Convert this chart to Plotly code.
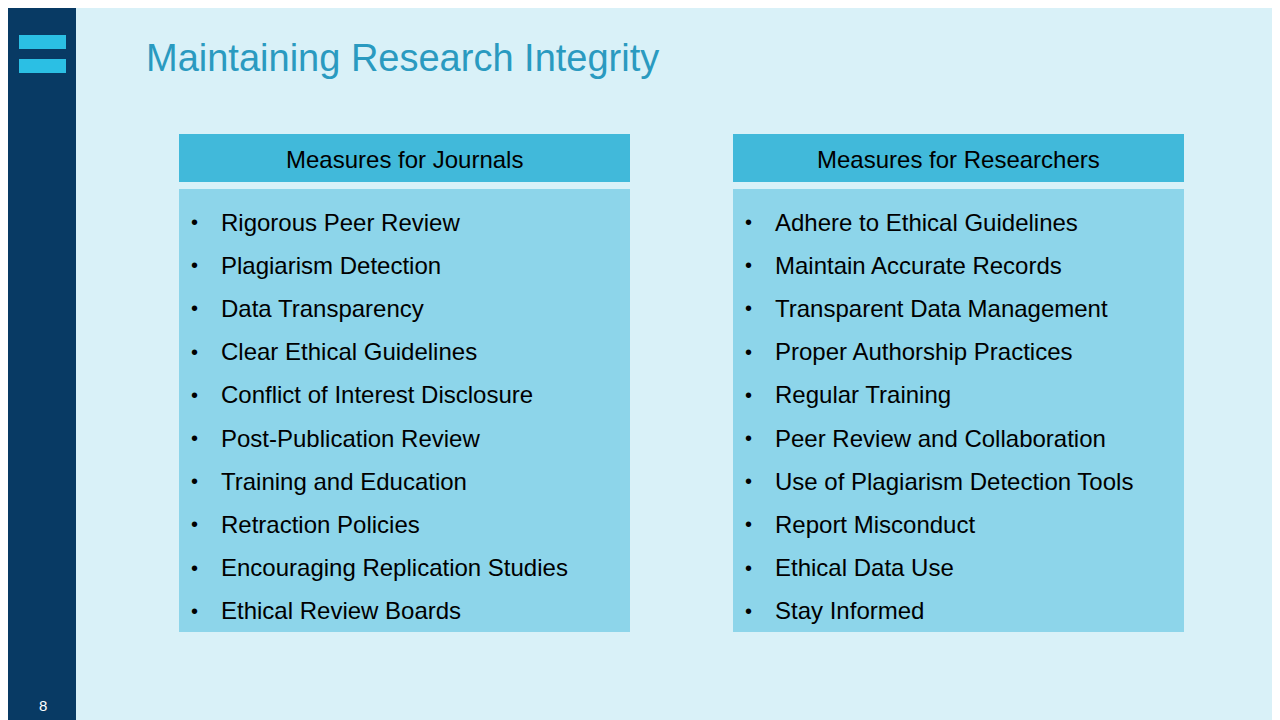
import plotly.graph_objects as go

title = "Maintaining Research Integrity"
headers = ["Measures for Journals", "Measures for Researchers"]
journals = ["Rigorous Peer Review", "Plagiarism Detection", "Data Transparency",
            "Clear Ethical Guidelines", "Conflict of Interest Disclosure",
            "Post-Publication Review", "Training and Education", "Retraction Policies",
            "Encouraging Replication Studies", "Ethical Review Boards"]
researchers = ["Adhere to Ethical Guidelines", "Maintain Accurate Records",
               "Transparent Data Management", "Proper Authorship Practices",
               "Regular Training", "Peer Review and Collaboration",
               "Use of Plagiarism Detection Tools", "Report Misconduct",
               "Ethical Data Use", "Stay Informed"]
page = "8"

FONT = "Liberation Sans, Arial, sans-serif"
fig = go.Figure()
shapes = [
    dict(type="rect", x0=0, x1=68, y0=0, y1=720, fillcolor="#083A64", line_width=0),
    dict(type="rect", x0=11, x1=58, y0=27, y1=41, fillcolor="#2BBFE4", line_width=0),
    dict(type="rect", x0=11, x1=58, y0=51, y1=65, fillcolor="#2BBFE4", line_width=0),
]
ann = [
    dict(x=136, y=50, text=title, xanchor="left", yanchor="middle", showarrow=False,
         font=dict(family=FONT, size=38, color="#2A9AC0")),
    dict(x=35, y=697, text=page, showarrow=False, font=dict(family=FONT, size=15, color="white")),
]
for x0, head, items in [(171, headers[0], journals), (725, headers[1], researchers)]:
    x1 = x0 + 451
    shapes.append(dict(type="rect", x0=x0, x1=x1, y0=126, y1=174, fillcolor="#41B9DA", line_width=0))
    shapes.append(dict(type="rect", x0=x0, x1=x1, y0=181, y1=624, fillcolor="#8DD5EA", line_width=0))
    ann.append(dict(x=(x0 + x1) / 2, y=151, text=head, showarrow=False,
                    font=dict(family=FONT, size=24, color="black")))
    for i, it in enumerate(items):
        y = 214 + i * 43.2
        ann.append(dict(x=x0 + 15, y=y, text="•", showarrow=False, xanchor="center",
                        font=dict(family=FONT, size=20, color="black")))
        ann.append(dict(x=x0 + 40, y=y, text=it, showarrow=False, xanchor="left",
                        font=dict(family=FONT, size=24, color="black")))

fig.update_layout(width=1280, height=720, margin=dict(l=0, r=0, t=0, b=0),
                  paper_bgcolor="#D9F1F8", plot_bgcolor="#D9F1F8",
                  shapes=shapes, annotations=ann, showlegend=False,
                  xaxis=dict(range=[0, 1280], visible=False, fixedrange=True),
                  yaxis=dict(range=[720, 0], visible=False, fixedrange=True))
fig.write_html("out.html", config={"displayModeBar": False})
